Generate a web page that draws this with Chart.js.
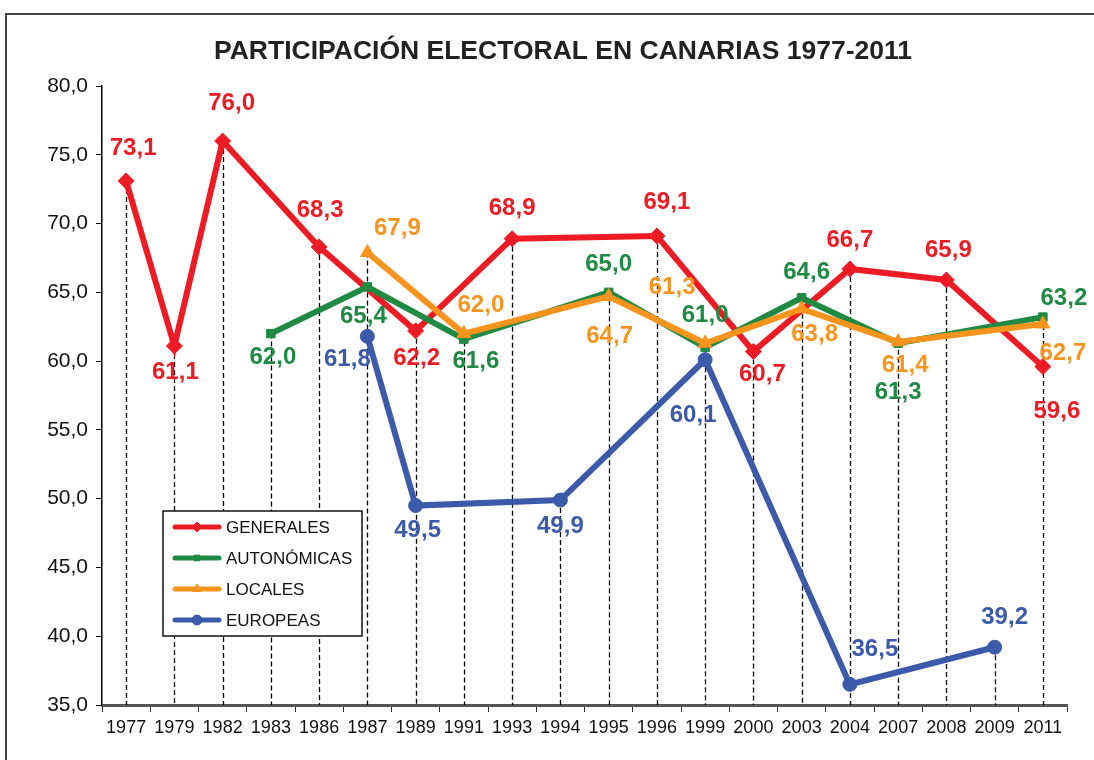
<!DOCTYPE html>
<html>
<head>
<meta charset="utf-8">
<title>Participación electoral en Canarias 1977-2011</title>
<script src="https://cdn.jsdelivr.net/npm/chart.js@4.4.1/dist/chart.umd.min.js"></script>
<style>
  html, body { margin: 0; padding: 0; background: #fff; overflow: hidden; }
  #frame { position: absolute; left: 5px; top: 13px; width: 1200px; height: 900px;
           border-top: 2px solid #444; border-left: 2px solid #444; }
  #wrap { position: absolute; left: 0; top: 0; width: 1094px; height: 760px; }
</style>
</head>
<body>
<div id="frame"></div>
<div id="wrap"><canvas id="turnoutChart" width="1094" height="760"></canvas></div>
<script>
// Años con alguna convocatoria electoral
const years = ['1977', '1979', '1982', '1983', '1986', '1987', '1989', '1991', '1993', '1994',
               '1995', '1996', '1999', '2000', '2003', '2004', '2007', '2008', '2009', '2011'];

// Participación (%) por tipo de elección; null = no hubo elección ese año
const generales   = [73.1, 61.1, 76.0, null, 68.3, null, 62.2, null, 68.9, null,
                     null, 69.1, null, 60.7, null, 66.7, null, 65.9, null, 59.6];
const autonomicas = [null, null, null, 62.0, null, 65.4, null, 61.6, null, null,
                     65.0, null, 61.0, null, 64.6, null, 61.3, null, null, 63.2];
const locales     = [null, null, null, null, null, 67.9, null, 62.0, null, null,
                     64.7, null, 61.3, null, 63.8, null, 61.4, null, null, 62.7];
const europeas    = [null, null, null, null, null, 61.8, 49.5, null, null, 49.9,
                     null, null, 60.1, null, null, 36.5, null, null, 39.2, null];

const yTicks = [35, 40, 45, 50, 55, 60, 65, 70, 75, 80];

// Desplazamiento de cada etiqueta respecto a su punto (px)
const labelOffsets = [
  { '1977': [7, -33], '1979': [1, 26], '1982': [9, -38], '1986': [1, -37], '1989': [1, 28],
    '1993': [0, -30], '1996': [10, -34], '2000': [9, 23], '2004': [0, -29], '2008': [2, -30],
    '2011': [14, 45] },
  { '1983': [2, 24], '1987': [-4, 30], '1991': [12, 22], '1995': [0, -28], '1999': [0, -32],
    '2003': [5, -25], '2007': [0, 49], '2011': [21, -19] },
  { '1987': [30, -24], '1991': [17, -28], '1995': [1, 40], '1999': [-33, -56], '2003': [13, 26],
    '2007': [7, 24], '2011': [20, 29] },
  { '1987': [-20, 23], '1989': [2, 25], '1994': [0, 26], '1999': [-12, 56], '2004': [25, -35],
    '2009': [10, -30] }
];

const fmt = v => v.toFixed(1).replace('.', ',');

// líneas discontinuas desde el valor más alto de cada año hasta el eje
const dropLines = {
  id: 'dropLines',
  beforeDatasetsDraw(chart) {
    const { ctx, scales: { x, y }, chartArea } = chart;
    ctx.save();
    ctx.strokeStyle = '#000';
    ctx.lineWidth = 1.3;
    ctx.setLineDash([5, 3]);
    years.forEach((yr, i) => {
      const vals = chart.data.datasets.map(ds => ds.data[i]).filter(v => v !== null);
      if (!vals.length) return;
      const px = Math.round(x.getPixelForValue(i)) + 0.5;
      ctx.beginPath();
      ctx.moveTo(px, y.getPixelForValue(Math.max(...vals)));
      ctx.lineTo(px, chartArea.bottom);
      ctx.stroke();
    });
    ctx.restore();
  }
};

// etiquetas de valor
const valueLabels = {
  id: 'valueLabels',
  afterDatasetsDraw(chart) {
    const ctx = chart.ctx;
    ctx.save();
    ctx.font = 'bold 24px "Liberation Sans", Arial, sans-serif';
    ctx.textAlign = 'center';
    ctx.textBaseline = 'middle';
    chart.data.datasets.forEach((ds, di) => {
      const meta = chart.getDatasetMeta(di);
      ctx.fillStyle = ds.labelColor;
      ds.data.forEach((v, i) => {
        if (v === null) return;
        const pt = meta.data[i];
        const off = labelOffsets[di][years[i]] || [0, -28];
        ctx.fillText(fmt(v), pt.x + off[0], pt.y + off[1]);
      });
    });
    ctx.restore();
  }
};

// título y leyenda dibujados sobre el lienzo
const titleAndLegend = {
  id: 'titleAndLegend',
  afterDraw(chart) {
    const ctx = chart.ctx;
    ctx.save();
    ctx.fillStyle = '#222';
    ctx.font = 'bold 26.5px "Liberation Sans", Arial, sans-serif';
    ctx.textAlign = 'center';
    ctx.textBaseline = 'middle';
    ctx.fillText('PARTICIPACIÓN ELECTORAL EN CANARIAS 1977-2011', 563, 52);

    const bx = 163, by = 511, bw = 199, bh = 125;
    ctx.fillStyle = '#fff';
    ctx.fillRect(bx, by, bw, bh);
    ctx.strokeStyle = '#111';
    ctx.lineWidth = 1.5;
    ctx.strokeRect(bx, by, bw, bh);

    ctx.font = '17px "Liberation Sans", Arial, sans-serif';
    ctx.textAlign = 'left';
    chart.data.datasets.forEach((ds, i) => {
      const ry = by + 16 + i * 31;
      ctx.strokeStyle = ds.borderColor;
      ctx.lineWidth = 5;
      ctx.lineCap = 'round';
      ctx.beginPath();
      ctx.moveTo(175, ry);
      ctx.lineTo(219, ry);
      ctx.stroke();
      ctx.lineCap = 'butt';
      ctx.fillStyle = ds.borderColor;
      ctx.lineWidth = 1;
      Chart.helpers.drawPoint(ctx, {
        pointStyle: ds.pointStyle, radius: ds.legendRadius, borderWidth: 1
      }, 197, ry);
      ctx.fillStyle = '#111';
      ctx.fillText(ds.label, 226, ry + 1);
    });
    ctx.restore();
  }
};

function series(label, data, color, style, radius, legendRadius, order) {
  return {
    label, data, order, legendRadius,
    borderColor: color, backgroundColor: color, labelColor: color,
    borderWidth: 6, pointStyle: style, pointRadius: radius,
    pointBorderColor: color, pointBackgroundColor: color, pointBorderWidth: 1,
    spanGaps: true, tension: 0, borderJoinStyle: 'miter'
  };
}

const ctx = document.getElementById('turnoutChart').getContext('2d');
const turnoutChart = new Chart(ctx, {
  type: 'line',
  data: {
    labels: years,
    datasets: [
      series('GENERALES', generales, '#ed1c24', 'rectRot', 8, 5, 4),
      series('AUTONÓMICAS', autonomicas, '#1f8a43', 'rect', 6, 4, 3),
      series('LOCALES', locales, '#f7941d', 'triangle', 8, 5, 2),
      series('EUROPEAS', europeas, '#3b5aa9', 'circle', 7, 5, 1)
    ]
  },
  options: {
    responsive: false,
    devicePixelRatio: 1,
    animation: false,
    layout: { padding: { top: 86, right: 27, left: 0, bottom: 0 } },
    plugins: {
      legend: { display: false },
      title: { display: false },
      tooltip: { enabled: false }
    },
    scales: {
      x: {
        offset: true,
        grid: { offset: true, drawOnChartArea: false, drawTicks: true, tickLength: 7, color: '#333', lineWidth: 1 },
        border: { color: '#555', width: 3 },
        ticks: { color: '#111', font: { family: '"Liberation Sans", Arial, sans-serif', size: 18 },
                 padding: 5, maxRotation: 0, autoSkip: false },
        afterFit(scale) { scale.height = 55; }
      },
      y: {
        min: 35, max: 80,
        afterBuildTicks(scale) { scale.ticks = yTicks.map(v => ({ value: v })); },
        grid: { drawOnChartArea: false, drawTicks: true, tickLength: 6, color: '#000', lineWidth: 1 },
        border: { color: '#000', width: 1.5 },
        ticks: { color: '#111', font: { family: '"Liberation Sans", Arial, sans-serif', size: 21 },
                 padding: 8, callback: v => fmt(v) },
        afterFit(scale) { scale.width = 102; }
      }
    }
  },
  plugins: [dropLines, valueLabels, titleAndLegend]
});
</script>
</body>
</html>
